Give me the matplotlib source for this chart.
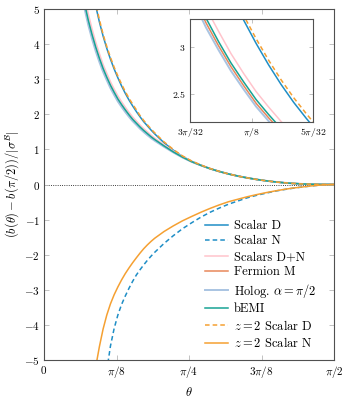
import numpy as np
import matplotlib
matplotlib.use('Agg')
import matplotlib.pyplot as plt

plt.rcParams['font.family'] = 'serif'
plt.rcParams['font.serif'] = ['cmr10']
plt.rcParams['mathtext.fontset'] = 'cm'
plt.rcParams['axes.formatter.use_mathtext'] = True

theta = [0.20, 0.22, 0.24, 0.26, 0.28, 0.30, 0.32, 0.34, 0.36, 0.38, 0.40, 0.42,
         0.44, 0.46, 0.48, 0.50, 0.52, 0.54, 0.56, 0.58, 0.60, 0.65, 0.70, 0.75,
         0.80, 0.85, 0.90, 0.95, 1.00, 1.05, 1.10, 1.15, 1.20, 1.25, 1.30, 1.35,
         1.40, 1.45, 1.50, 1.5708]

tail = [0.45, 0.37, 0.30, 0.24, 0.19, 0.145, 0.107, 0.075, 0.05, 0.03, 0.016, 0.007, 0.002, 0.0]

scalar_d = [7.83, 6.95, 6.23, 5.61, 5.09, 4.63, 4.23, 3.88, 3.57, 3.29, 3.04, 2.81,
            2.60, 2.41, 2.24, 2.08, 1.93, 1.79, 1.67, 1.55, 1.44, 1.19, 0.98, 0.80,
            0.66, 0.55] + tail
scalar_n = [-14.3, -12.3, -10.6, -9.2, -8.0, -7.0, -6.1, -5.3, -4.6, -4.1, -3.72, -3.42,
            -3.18, -2.96, -2.76, -2.58, -2.43, -2.29, -2.16, -2.04, -1.93, -1.68,
            -1.46, -1.26, -1.09, -0.93, -0.79, -0.67, -0.56, -0.47, -0.38, -0.31,
            -0.25, -0.19, -0.145, -0.105, -0.07, -0.04, -0.015, 0.0]
scalars_dn = [5.97, 5.35, 4.86, 4.44, 4.06, 3.73, 3.42, 3.17, 2.93, 2.72, 2.525, 2.36,
              2.205, 2.06, 1.925, 1.81, 1.695, 1.59, 1.50, 1.405, 1.32, 1.13, 0.955,
              0.80, 0.66, 0.55] + tail
fermion_m = [5.66, 5.07, 4.61, 4.215, 3.86, 3.545, 3.26, 3.015, 2.79, 2.59, 2.40, 2.245,
             2.10, 1.96, 1.83, 1.725, 1.615, 1.517, 1.428, 1.34, 1.265, 1.09, 0.925,
             0.776, 0.648, 0.544] + tail
holog = [5.58, 5.0, 4.54, 4.15, 3.80, 3.49, 3.21, 2.97, 2.745, 2.55, 2.365, 2.21,
         2.065, 1.93, 1.805, 1.70, 1.59, 1.495, 1.405, 1.32, 1.245, 1.075, 0.915,
         0.77, 0.645, 0.543] + tail
bemi = [5.75, 5.15, 4.68, 4.28, 3.92, 3.60, 3.31, 3.06, 2.83, 2.63, 2.44, 2.28,
        2.13, 1.99, 1.86, 1.75, 1.64, 1.54, 1.45, 1.36, 1.28, 1.10, 0.93, 0.78,
        0.65, 0.545] + tail
z2_scalar_d = [7.90, 7.02, 6.30, 5.68, 5.16, 4.70, 4.28, 3.93, 3.62, 3.34, 3.09, 2.86,
               2.65, 2.46, 2.29, 2.13, 1.965, 1.825, 1.70, 1.58, 1.47, 1.215, 1.00,
               0.815, 0.67, 0.555, 0.455, 0.373, 0.30, 0.24, 0.19, 0.145, 0.107,
               0.075, 0.05, 0.03, 0.016, 0.007, 0.002, 0.0]
z2_scalar_n = [-8.6, -7.5, -6.6, -5.85, -5.2, -4.62, -4.12, -3.72, -3.40, -3.14, -2.92,
               -2.72, -2.54, -2.38, -2.23, -2.09, -1.955, -1.83, -1.72, -1.62, -1.53,
               -1.34, -1.18, -1.035, -0.91, -0.79, -0.68, -0.58, -0.49, -0.42, -0.35,
               -0.29, -0.235, -0.185, -0.14, -0.10, -0.07, -0.04, -0.015, 0.0]

series = [
    ('Scalar D', scalar_d, '#1f8ec6', '-', 1.1),
    ('Scalar N', scalar_n, '#1f8ec6', (0, (3, 2)), 1.1),
    ('Scalars D+N', scalars_dn, '#ffc4cc', '-', 1.1),
    ('Fermion M', fermion_m, '#e8875a', '-', 1.1),
    (r'Holog. $\alpha=\pi/2$', holog, '#a9c4e2', '-', 1.4),
    ('bEMI', bemi, '#17a394', '-', 1.1),
    (r'$z=2$ Scalar D', z2_scalar_d, '#f5a032', (0, (3, 2)), 1.1),
    (r'$z=2$ Scalar N', z2_scalar_n, '#f5a032', '-', 1.1),
]

xticks = [0, np.pi/8, np.pi/4, 3*np.pi/8, np.pi/2]
xticklabels = ['$0$', r'$\pi/8$', r'$\pi/4$', r'$3\pi/8$', r'$\pi/2$']
yticks = [-5, -4, -3, -2, -1, 0, 1, 2, 3, 4, 5]
inset_xticks = [3*np.pi/32, np.pi/8, 5*np.pi/32]
inset_xticklabels = [r'$3\pi/32$', r'$\pi/8$', r'$5\pi/32$']
inset_yticks = [2.5, 3]

fig = plt.figure(figsize=(3.42, 4.0), dpi=100)
ax = fig.add_axes([44/342, 40/400, 290/342, 351/400])

for label, vals, col, ls, lw in series:
    ax.plot(theta, vals, color=col, ls=ls, lw=lw, label=label)
ax.axhline(0, color='k', ls=':', lw=0.6, zorder=0)

ax.set_xlim(0, np.pi/2)
ax.set_ylim(-5, 5)
ax.set_xticks(xticks)
ax.set_xticklabels(xticklabels)
ax.set_yticks(yticks)
ax.set_yticklabels(['$%d$' % v for v in yticks])
ax.tick_params(direction='in', top=True, right=True, length=3.5, width=0.6,
               color='#b8b8b8', labelsize=8, pad=3)
for s in ax.spines.values():
    s.set_color('#505050')
    s.set_linewidth(0.8)
ax.set_xlabel(r'$\theta$', fontsize=9, labelpad=4)
ax.set_ylabel(r'$(b(\theta)-b(\pi/2))/|\sigma^{\mathcal{B}}|$', fontsize=9, labelpad=2)

leg = ax.legend(loc='lower right', bbox_to_anchor=(0.995, -0.018), frameon=False,
                fontsize=9, handlelength=1.9, handletextpad=0.45, labelspacing=0.27,
                borderaxespad=0.9)

axin = fig.add_axes([190/342, 1-122/400, 123/342, 103/400])
for label, vals, col, ls, lw in series:
    axin.plot(theta, vals, color=col, ls=ls, lw=lw)
axin.set_xlim(3*np.pi/32, 5*np.pi/32)
axin.set_ylim(2.2, 3.3)
axin.set_xticks(inset_xticks)
axin.set_xticklabels(inset_xticklabels)
axin.set_yticks(inset_yticks)
axin.set_yticklabels(['$2.5$', '$3$'])
axin.tick_params(direction='in', top=True, right=True, length=3, width=0.6,
                 color='#b8b8b8', labelsize=7, pad=3)
for s in axin.spines.values():
    s.set_color('#505050')
    s.set_linewidth(0.8)

fig.savefig('out.png', dpi=100)
